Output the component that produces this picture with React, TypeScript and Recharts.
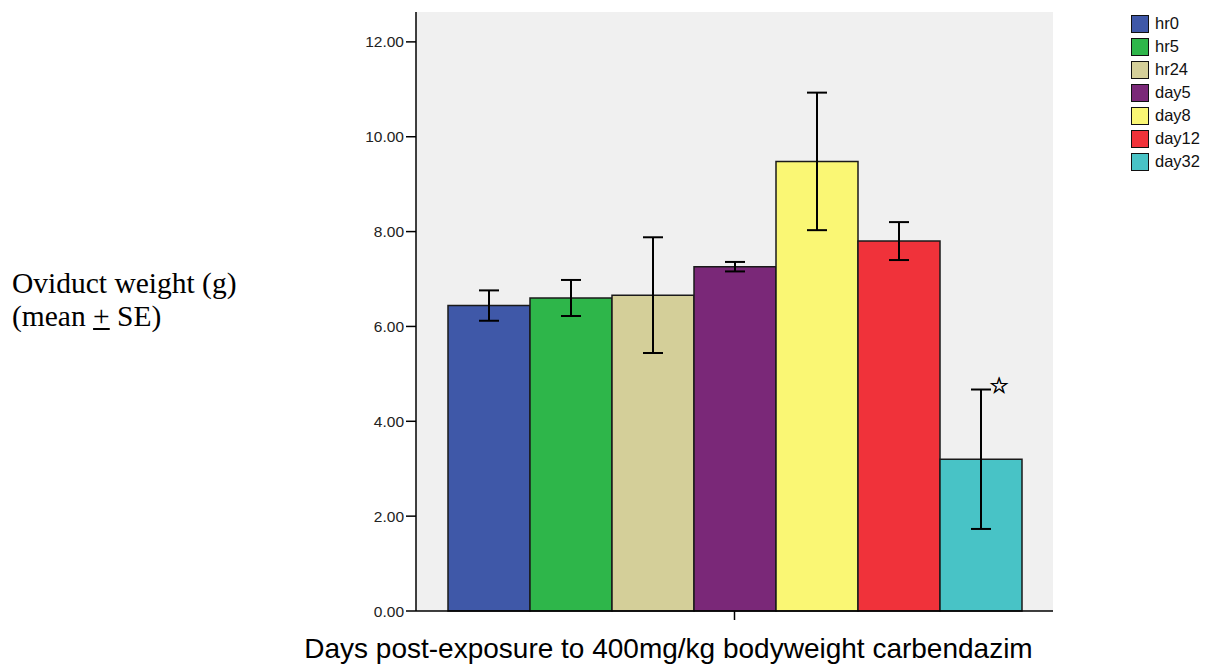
import React from 'react';
import {
  BarChart,
  Bar,
  XAxis,
  YAxis,
  CartesianGrid,
  ErrorBar,
  Legend,
  LabelList,
  Label,
} from 'recharts';

// Groups (time after exposure), mean oviduct weight and SE
const groups = ['hr0', 'hr5', 'hr24', 'day5', 'day8', 'day12', 'day32'];
const means = [6.44, 6.6, 6.66, 7.26, 9.48, 7.8, 3.2];
const errors = [0.32, 0.38, 1.22, 0.1, 1.45, 0.4, 1.47];
const colors = ['#3f58a8', '#2eb64a', '#d4cf99', '#7a2878', '#faf774', '#f0323a', '#48c3c6'];
const yTicks = [0, 2, 4, 6, 8, 10, 12];
const yMax = 12.63;
const markedGroup = 'day32'; // significant vs control

// one category row, one key per group plus its error
const row: Record<string, number | string> = { name: '' };
groups.forEach((g, i) => {
  row[g] = means[i];
  row[`${g}Err`] = errors[i];
});
const data = [row];

const AXIS = '#000';
const sans = '"Liberation Sans", Arial, sans-serif';

// star drawn just right of the top of the error bar
const renderStar = (props: any) => {
  const { x, y, width, height, value } = props;
  const idx = groups.indexOf(markedGroup);
  const pxPerUnit = height / value;
  const topY = y - errors[idx] * pxPerUnit;
  return (
    <text
      x={x + width / 2 + 18}
      y={topY - 4}
      textAnchor="middle"
      dominantBaseline="central"
      fontSize={22}
      fontFamily='"DejaVu Sans", sans-serif'
      fill="#000"
      stroke="#000"
      strokeWidth={0.6}
    >
      ☆
    </text>
  );
};

// legend keeps the group order, not the alphabetical one
const renderLegend = () => (
  <div style={{ fontFamily: sans, fontSize: 16.5, color: '#111' }}>
    {groups.map((g, i) => (
      <div key={g} style={{ display: 'flex', alignItems: 'center', height: 23 }}>
        <span
          style={{
            display: 'inline-block',
            width: 16,
            height: 16,
            background: colors[i],
            border: '1.5px solid #111',
            marginRight: 6,
          }}
        />
        <span>{g}</span>
      </div>
    ))}
  </div>
);

const App = () => {
  return (
    <div style={{ position: 'absolute', left: 0, top: 0, width: 1215, height: 666, background: '#fff' }}>
      <div
        style={{
          position: 'absolute',
          left: 12,
          top: 267,
          fontFamily: '"Liberation Serif", "Times New Roman", serif',
          fontSize: 29.5,
          lineHeight: '33px',
          color: '#000',
        }}
      >
        <div>Oviduct weight (g)</div>
        <div>
          (mean <u>+</u> SE)
        </div>
      </div>
      <BarChart
        width={1215}
        height={666}
        data={data}
        margin={{ top: 12, right: 162, left: 340, bottom: 10 }}
        barCategoryGap={32}
        barGap={0}
      >
        <CartesianGrid fill="#f0f0f0" horizontal={false} vertical={false} />
        <XAxis
          dataKey="name"
          height={45}
          axisLine={{ stroke: AXIS, strokeWidth: 1.5 }}
          tickLine={{ stroke: AXIS, strokeWidth: 1.5 }}
          tickSize={9}
          tickFormatter={() => ''}
        >
          <Label
            value="Days post-exposure to 400mg/kg bodyweight carbendazim"
            position="insideBottom"
            offset={-2}
            dx={-66}
            style={{ fontFamily: sans, fontSize: 28, fill: '#000' }}
          />
        </XAxis>
        <XAxis
          xAxisId="top"
          orientation="top"
          dataKey="name"
          height={0}
          tick={false}
          tickLine={false}
          axisLine={{ stroke: AXIS, strokeWidth: 1.5 }}
        />
        <YAxis
          width={76}
          domain={[0, yMax]}
          ticks={yTicks}
          interval={0}
          tickSize={10}
          tickFormatter={(v: number) => v.toFixed(2)}
          axisLine={{ stroke: AXIS, strokeWidth: 1.5 }}
          tickLine={{ stroke: AXIS, strokeWidth: 1.5 }}
          tick={{ fontFamily: sans, fontSize: 15.5, fill: '#222' }}
        />
        <YAxis
          yAxisId="right"
          orientation="right"
          width={0}
          domain={[0, yMax]}
          tick={false}
          tickLine={false}
          axisLine={{ stroke: AXIS, strokeWidth: 1.5 }}
        />
        {groups.map((g, i) => (
          <Bar
            key={g}
            dataKey={g}
            name={g}
            fill={colors[i]}
            stroke="#1a1a1a"
            strokeWidth={1.5}
            isAnimationActive={false}
          >
            <ErrorBar dataKey={`${g}Err`} width={10} stroke="#000" strokeWidth={2} direction="y" />
            {g === markedGroup && <LabelList dataKey={g} content={renderStar} />}
          </Bar>
        ))}
        <Legend
          layout="vertical"
          align="center"
          verticalAlign="middle"
          content={renderLegend}
          wrapperStyle={{ top: 12, left: 1131, width: 84 }}
        />
      </BarChart>
    </div>
  );
};

export default App;
